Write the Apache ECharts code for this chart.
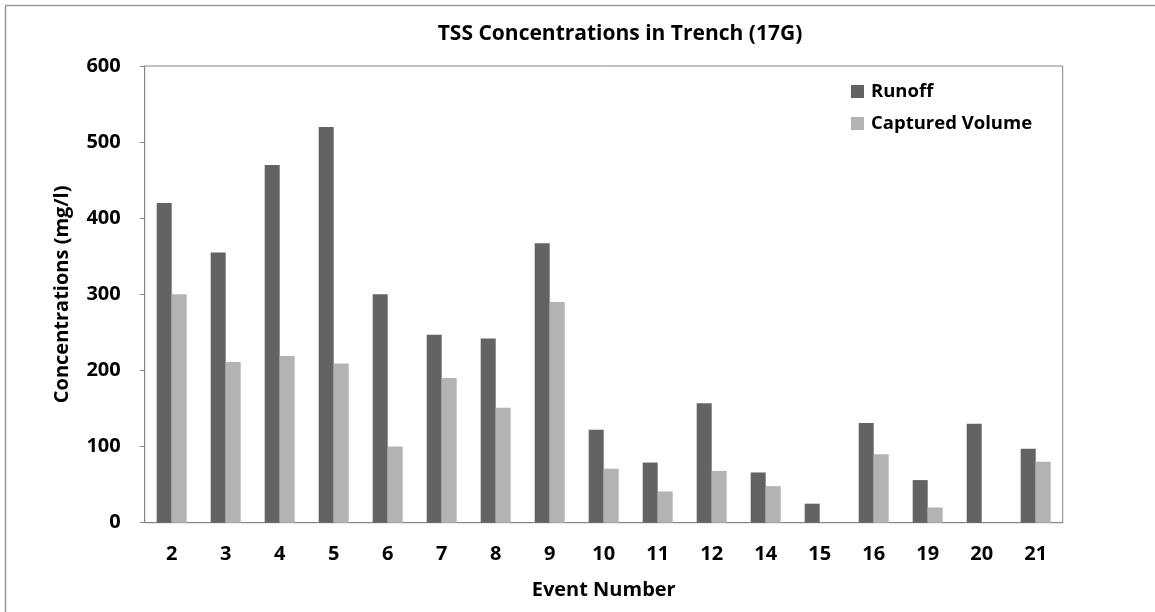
<!DOCTYPE html>
<html>
<head>
<meta charset="utf-8">
<script src="https://cdn.jsdelivr.net/npm/echarts@6/dist/echarts.min.js"></script>
<style>
html,body{margin:0;padding:0;background:#fff;}
#chart{width:1155px;height:612px;}
</style>
</head>
<body>
<div id="chart"></div>
<script>
const categories = ['2','3','4','5','6','7','8','9','10','11','12','14','15','16','19','20','21'];
const runoff =   [420, 355, 470, 520, 300, 247, 242, 367, 122, 79, 157, 66, 25, 131, 56, 130, 97];
const captured = [300, 211, 219, 209, 100, 190, 151, 290, 71, 41, 68, 48, null, 90, 20, null, 80];
const yTicks = [0, 100, 200, 300, 400, 500, 600];

const FONT = '"Open Sans", sans-serif';
const chart = echarts.init(document.getElementById('chart'), null, {renderer: 'canvas'});
chart.setOption({
  backgroundColor: '#fff',
  animation: false,
  graphic: [
    {type: 'line', shape: {x1: 5.5, y1: 5.5, x2: 1155, y2: 5.5}, style: {stroke: '#9a9a9a', lineWidth: 1.5}, silent: true},
    {type: 'line', shape: {x1: 5.5, y1: 5.5, x2: 5.5, y2: 612}, style: {stroke: '#9a9a9a', lineWidth: 1.5}, silent: true}
  ],
  title: {
    text: 'TSS Concentrations in Trench (17G)',
    left: 615,
    textAlign: 'center',
    top: 19,
    textStyle: {fontFamily: FONT, fontWeight: 'bold', fontSize: 21, color: '#000'}
  },
  legend: {
    orient: 'vertical',
    left: 846,
    top: 77,
    itemWidth: 13,
    itemHeight: 13,
    itemGap: 13,
    icon: 'rect',
    textStyle: {fontFamily: FONT, fontWeight: 'bold', fontSize: 18.5, color: '#000', padding: [0,0,0,2]},
    data: ['Runoff', 'Captured Volume']
  },
  grid: {
    left: 144.7, right: 92.3, top: 66, bottom: 89.3,
    show: true, borderColor: '#868686', borderWidth: 1, backgroundColor: 'transparent'
  },
  xAxis: {
    type: 'category',
    data: categories,
    name: 'Event Number',
    nameLocation: 'middle',
    nameGap: 58,
    nameTextStyle: {fontFamily: FONT, fontWeight: 'bold', fontSize: 20, color: '#000'},
    axisLine: {lineStyle: {color: '#868686', width: 1}},
    axisTick: {show: false},
    axisLabel: {fontFamily: FONT, fontWeight: 'bold', fontSize: 20, color: '#000', margin: 22}
  },
  yAxis: {
    type: 'value',
    min: yTicks[0],
    max: yTicks[yTicks.length - 1],
    interval: 100,
    name: 'Concentrations (mg/l)',
    nameLocation: 'middle',
    nameGap: 72,
    nameTextStyle: {fontFamily: FONT, fontWeight: 'bold', fontSize: 20, color: '#000'},
    axisLine: {show: true, lineStyle: {color: '#868686', width: 1}},
    axisTick: {show: true, length: 5, lineStyle: {color: '#868686'}},
    splitLine: {show: false},
    axisLabel: {fontFamily: FONT, fontWeight: 'bold', fontSize: 20, color: '#000', margin: 24}
  },
  series: [
    {
      name: 'Runoff', type: 'bar', data: runoff,
      barWidth: 15, barGap: '0%',
      itemStyle: {color: '#636363'}
    },
    {
      name: 'Captured Volume', type: 'bar', data: captured,
      barWidth: 15, barGap: '0%',
      itemStyle: {color: '#b3b3b3'}
    }
  ]
});
</script>
</body>
</html>
